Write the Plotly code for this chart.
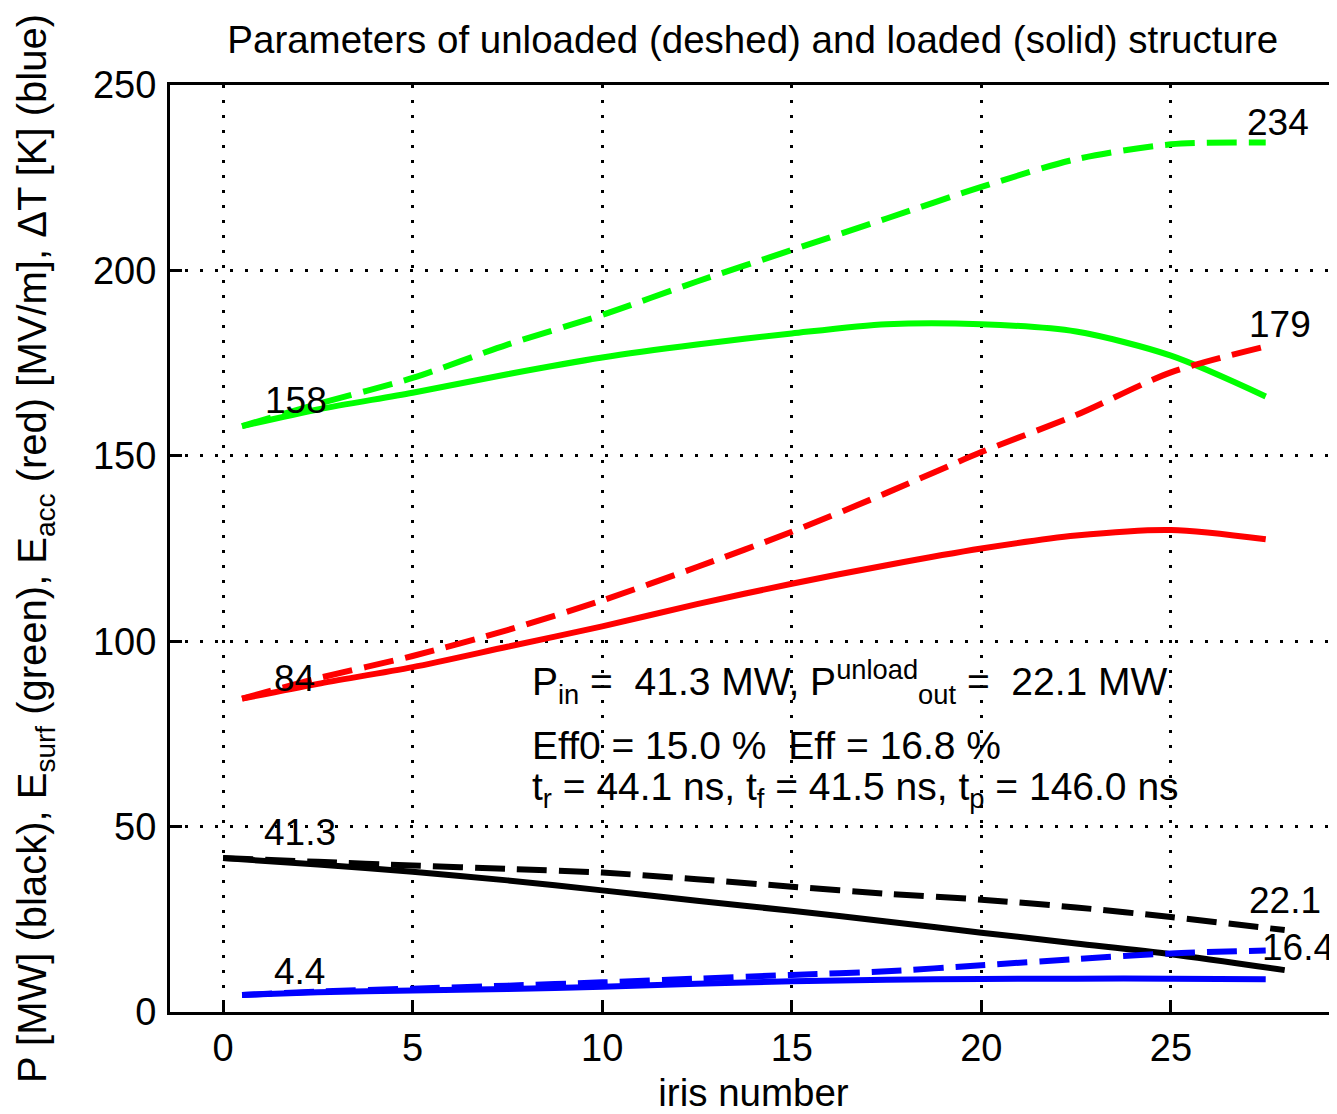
import plotly.graph_objects as go

# ---- data ----
x_iris = [0.5, 2.5, 5, 7.5, 10, 12.5, 15, 17.5, 20, 22.5, 25, 27.5]
x_pow = [0, 2.5, 5, 7.5, 10, 12.5, 15, 17.5, 20, 22.5, 25, 28]

esurf_unloaded = [158, 164, 171, 180, 188, 197, 205.5, 214, 222.5, 230, 234, 234.5]
esurf_loaded = [158, 162.5, 167, 172, 176.5, 180, 183, 185.5, 185.5, 183.5, 177, 166]
eacc_unloaded = [84.5, 90, 96, 103, 111, 120, 129.5, 140, 151, 161, 172.5, 179.5]
eacc_loaded = [84.5, 88.5, 93, 98.5, 104, 110, 115.5, 120.5, 125, 128.5, 130, 127.5]
p_unloaded = [41.5, 40.5, 39.5, 38.6, 37.6, 35.8, 33.8, 31.9, 30.3, 28.2, 25.6, 22.1]
p_loaded = [41.5, 39.8, 37.8, 35.5, 32.8, 30.0, 27.3, 24.4, 21.4, 18.5, 15.6, 11.3]
dt_unloaded = [4.6, 5.5, 6.3, 7.1, 8.0, 9.0, 10.0, 11.0, 12.6, 14.3, 15.8, 16.6]
dt_loaded = [4.6, 5.3, 5.8, 6.2, 6.8, 7.6, 8.3, 8.7, 8.9, 9.0, 9.0, 8.8]

# labels: (x, y, text)
label_x = [1.05, 26.95, 27.0, 1.3, 1.03, 27.0, 27.35, 1.3]
label_y = [165, 240, 185.5, 90, 48.5, 30.2, 17.3, 10.8]
label_text = ["158", "234", "179", "84", "41.3", "22.1", "16.4", "4.4"]

info_lines = [
    "P<sub>in</sub> =  41.3 MW, P<sup>unload</sup><sub>out</sub> =  22.1 MW",
    "Eff0 = 15.0 %  Eff = 16.8 %",
    "t<sub>r</sub> = 44.1 ns, t<sub>f</sub> = 41.5 ns, t<sub>p</sub> = 146.0 ns",
]
info_y = [89, 72, 60]
info_x = 8.1

x_ticks = [0, 5, 10, 15, 20, 25]
y_ticks = [0, 50, 100, 150, 200, 250]

FONT = "Liberation Sans, Arial, sans-serif"
FS = 37
DASH = "30px,12px"

fig = go.Figure()

def add(x, y, color, dash):
    fig.add_trace(go.Scatter(
        x=x, y=y, mode="lines",
        line=dict(color=color, width=6, dash=dash, shape="spline", smoothing=0.8),
        showlegend=False, hoverinfo="skip"))

add(x_iris, esurf_unloaded, "#00FF00", DASH)
add(x_iris, esurf_loaded, "#00FF00", "solid")
add(x_iris, eacc_unloaded, "#FF0000", DASH)
add(x_iris, eacc_loaded, "#FF0000", "solid")
add(x_pow, p_unloaded, "#000000", DASH)
add(x_pow, p_loaded, "#000000", "solid")
add(x_iris, dt_unloaded, "#0000FF", DASH)
add(x_iris, dt_loaded, "#0000FF", "solid")

for lx, ly, lt in zip(label_x, label_y, label_text):
    fig.add_annotation(x=lx, y=ly, text=lt, showarrow=False,
                       xanchor="left", yanchor="middle",
                       font=dict(family=FONT, size=FS, color="black"))

for t, yy in zip(info_lines, info_y):
    fig.add_annotation(x=info_x, y=yy, text=t, showarrow=False,
                       xanchor="left", yanchor="middle",
                       font=dict(family=FONT, size=39, color="black"))

axis_common = dict(
    showline=True, linecolor="black", linewidth=3,
    ticks="inside", ticklen=12, tickwidth=3, tickcolor="black",
    showgrid=True, gridcolor="black", gridwidth=3, griddash="3px,12px",
    zeroline=False, automargin=False,
    tickfont=dict(family=FONT, size=38, color="black"),
)

fig.update_xaxes(
    range=[-1.4, 29.38], tickvals=x_ticks, mirror=True,
    ticklabelstandoff=0,
    title=dict(text="iris number", font=dict(family=FONT, size=38.5, color="black"), standoff=12),
    **axis_common)
fig.update_yaxes(
    range=[0, 250], tickvals=y_ticks, mirror=False,
    ticklabelstandoff=3,
    title=dict(text="P [MW] (black), E<sub>surf</sub> (green), E<sub>acc</sub> (red) [MV/m], ΔT [K] (blue)",
               font=dict(family=FONT, size=40, color="black"), standoff=34),
    **axis_common)

fig.update_layout(
    width=1337, height=1114,
    margin=dict(l=162, r=8, t=77, b=110),
    paper_bgcolor="white", plot_bgcolor="white",
    title=dict(text="Parameters of unloaded (deshed) and loaded (solid) structure",
               x=0.557, xanchor="center", y=0.9713, yanchor="middle",
               font=dict(family=FONT, size=38.5, color="black")),
)

fig.write_html("out.html")
